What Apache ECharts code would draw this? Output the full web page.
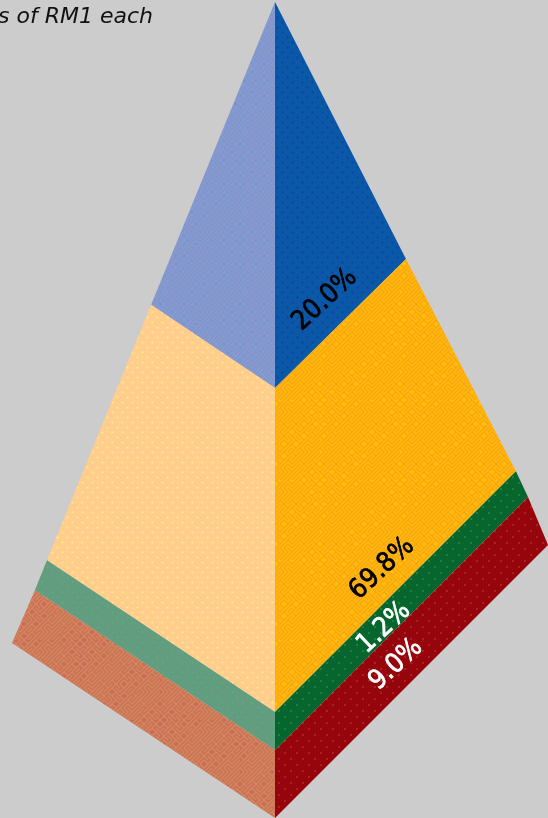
<!DOCTYPE html>
<html>
<head>
<meta charset="utf-8">
<style>
  html, body { margin: 0; padding: 0; background: #cccccc; }
  #chart { width: 548px; height: 818px; overflow: hidden; }
</style>
<script src="https://cdn.jsdelivr.net/npm/echarts@6/dist/echarts.min.js"></script>
</head>
<body>
<div id="chart"></div>
<script>
// Shareholding by band, top of the pyramid first.
const shares = [20.0, 69.8, 1.2, 9.0];
const labelColors = ['#000000', '#000000', '#ffffff', '#ffffff'];
const captionText = 's of RM1 each';

// Band boundaries on the three visible edges, apex first, in axis units:
// [lateral offset from the front edge, drop from the apex].
const leftEdge = [[0, 0], [-0.471, 37.1], [-0.867, 68.4], [-0.913, 72.1], [-1, 78.55]];
const frontEdge = [[0, 0], [0, 47.3], [0, 87.0], [0, 91.7], [0, 100]];
const rightEdge = [[0, 0], [0.498, 31.5], [0.916, 57.5], [0.962, 60.66], [1.038, 66.54]];
// Where each value label is centred, in the same units.
const labelLateral = [0.19, 0.407, 0.415, 0.46];
const labelDrop = [36.5, 69.45, 76.7, 81.2];

// Print screens for the two faces of each band: staggered dots and a worm-like maze.
function makeTile(size, base, paint) {
  const c = document.createElement('canvas');
  c.width = c.height = size;
  const g = c.getContext('2d');
  g.fillStyle = base;
  g.fillRect(0, 0, size, size);
  paint(g, size);
  return c;
}
function dots(base, dot, step, r) {
  return makeTile(step * 2, base, function (g) {
    g.fillStyle = dot;
    [[step / 2, step / 2], [step * 1.5, step * 1.5]].forEach(function (p) {
      g.beginPath();
      g.arc(p[0], p[1], r, 0, Math.PI * 2);
      g.fill();
    });
  });
}
function maze(base, line) {
  const cell = 4;
  const count = 20;
  return makeTile(cell * count, base, function (g) {
    g.strokeStyle = line;
    g.lineWidth = 1.8;
    g.lineCap = 'round';
    g.beginPath();
    for (let r = 0; r < count; r++) {
      for (let q = 0; q < count; q++) {
        // Fixed scramble of the cell index picks the diagonal's direction.
        const flip = ((q * 7 + r * 13 + (q * r) % 5) % 3) === 0;
        const x = q * cell;
        const y = r * cell;
        if (flip) {
          g.moveTo(x, y);
          g.lineTo(x + cell, y + cell);
        } else {
          g.moveTo(x + cell, y);
          g.lineTo(x, y + cell);
        }
      }
    }
    g.stroke();
  });
}
const leftFills = [
  maze('#6d9ad4', '#8f97cb'),
  dots('#ffcd8e', '#ffee78', 5, 1.1),
  dots('#639c80', '#4db86c', 5, 1),
  maze('#c96a5c', '#d2845a')
];
const rightFills = [
  dots('#0a58a6', '#0d3cb4', 5, 1),
  maze('#ffc103', '#fba814'),
  dots('#07662e', '#1f8c48', 6, 1),
  dots('#96050b', '#a8302c', 6, 1)
];

const rows = shares.map(function (share, i) {
  return [i, share];
});

function renderBand(params, api) {
  const i = api.value(0);
  const face = function (edge, fill) {
    return {
      type: 'polygon',
      shape: {
        points: [edge[i], frontEdge[i], frontEdge[i + 1], edge[i + 1]].map(function (p) {
          return api.coord(p);
        })
      },
      style: { fill: { image: fill, repeat: 'repeat' } }
    };
  };
  const at = api.coord([labelLateral[i], labelDrop[i]]);
  return {
    type: 'group',
    children: [
      face(leftEdge, leftFills[i]),
      face(rightEdge, rightFills[i]),
      {
        type: 'text',
        x: at[0],
        y: at[1],
        rotation: 43 * Math.PI / 180,
        z2: 10,
        style: {
          text: api.value(1).toFixed(1) + '%',
          fill: labelColors[i],
          stroke: labelColors[i],
          lineWidth: 0.7,
          font: '27px "DejaVu Sans Condensed", "DejaVu Sans", sans-serif',
          align: 'center',
          verticalAlign: 'middle'
        }
      }
    ]
  };
}

const chart = echarts.init(document.getElementById('chart'), null, { renderer: 'canvas' });
chart.setOption({
  animation: false,
  backgroundColor: '#cccccc',
  title: {
    text: captionText,
    left: -2,
    top: 6,
    padding: 0,
    textStyle: {
      fontFamily: '"DejaVu Sans", sans-serif',
      fontStyle: 'italic',
      fontWeight: 'normal',
      fontSize: 22,
      color: '#111111'
    }
  },
  grid: { left: 0, right: 0, top: 0, bottom: 0 },
  xAxis: { type: 'value', min: -1.0456, max: 1.038, show: false },
  yAxis: { type: 'value', min: -0.245, max: 100, inverse: true, show: false },
  series: [{
    type: 'custom',
    coordinateSystem: 'cartesian2d',
    clip: false,
    data: rows,
    encode: { x: 0, y: 1 },
    renderItem: renderBand
  }]
});
</script>
</body>
</html>
